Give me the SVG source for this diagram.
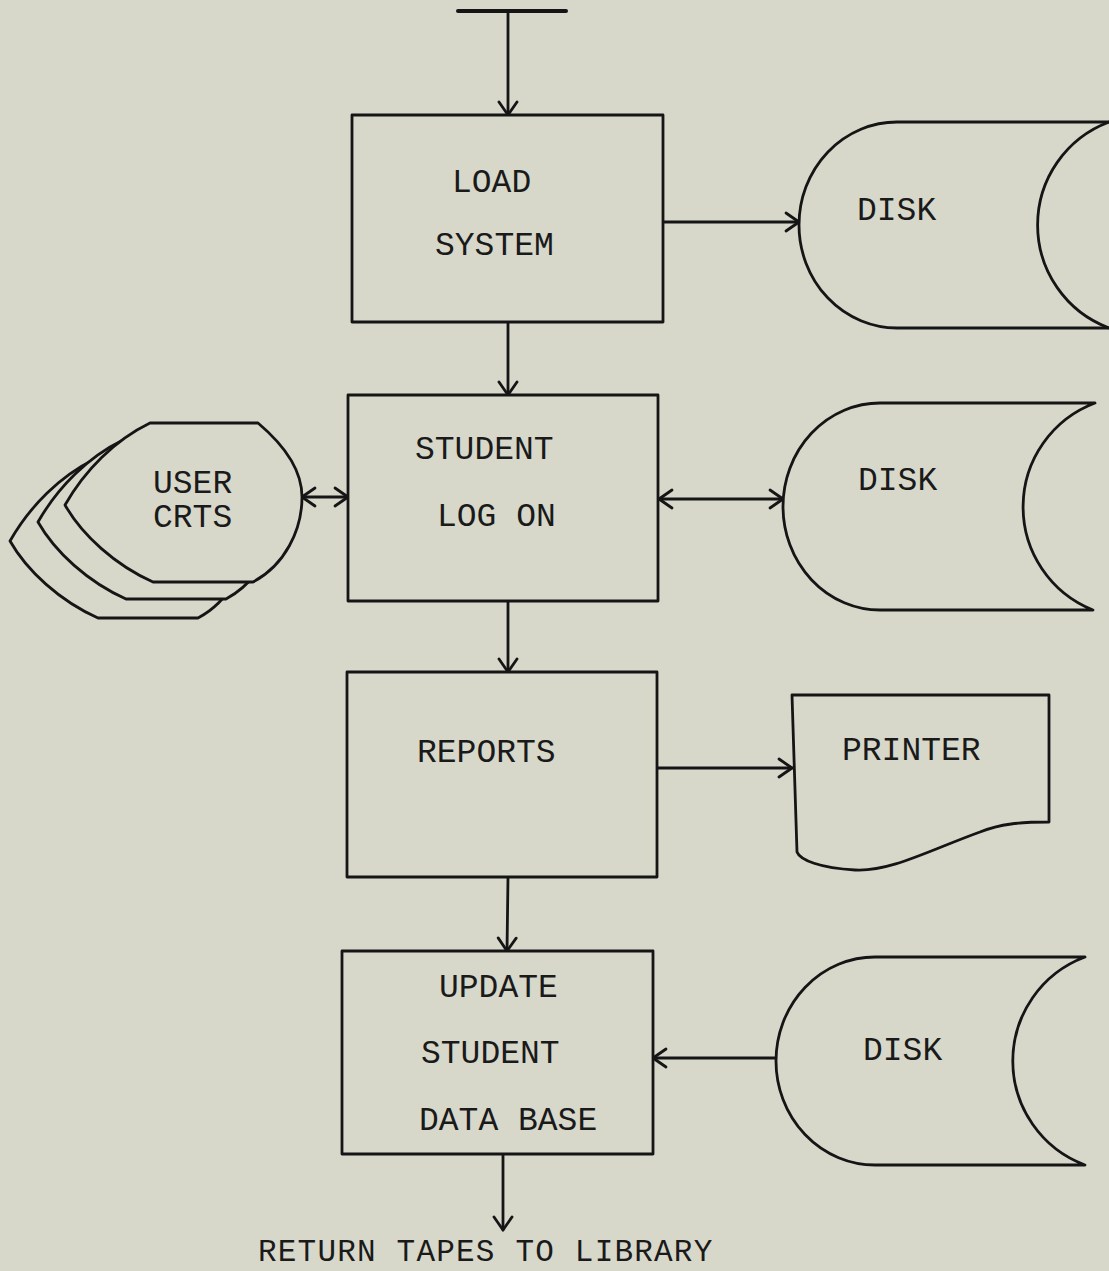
<svg xmlns="http://www.w3.org/2000/svg" width="1109" height="1271" viewBox="0 0 1109 1271">
<style>
.bg{fill:#d7d8ca}
.shape{fill:#d7d8ca;stroke:#151515;stroke-width:2.8;stroke-linejoin:round}
.line{fill:none;stroke:#151515;stroke-width:2.8;stroke-linecap:round}
.txt{font-family:"Liberation Mono","Courier New",monospace;font-size:33px;fill:#1a1a1a}
.small{font-size:31px;letter-spacing:1.2px}
</style>
<defs>
<marker id="arr" markerUnits="userSpaceOnUse" viewBox="-15 -11 17 22" refX="0" refY="0" markerWidth="17" markerHeight="22" orient="auto-start-reverse">
<path d="M -13 -9 L 0 0 L -13 9" fill="none" stroke="#151515" stroke-width="2.8" stroke-linecap="round" stroke-linejoin="round"/>
</marker>
<path id="crt" d="M 150 423 L 258 423 C 290 450 302 475 302 497 C 302 530 285 565 253 582 L 153 582 C 115 565 82 535 65 505 C 85 470 115 440 150 423 Z"/>
</defs>
<rect class="bg" x="0" y="0" width="1109" height="1271"/>

<g id="connectors">
<line class="line" x1="458" y1="11" x2="566" y2="11" style="stroke-width:4"/>
<line class="line" x1="508" y1="11" x2="508" y2="115" marker-end="url(#arr)"/>
<line class="line" x1="508" y1="322" x2="508" y2="395" marker-end="url(#arr)"/>
<line class="line" x1="663" y1="222" x2="799" y2="222" marker-end="url(#arr)"/>
<line class="line" x1="302" y1="497" x2="348" y2="497" marker-start="url(#arr)" marker-end="url(#arr)"/>
<line class="line" x1="659" y1="499" x2="783" y2="499" marker-start="url(#arr)" marker-end="url(#arr)"/>
<line class="line" x1="508" y1="601" x2="508" y2="672" marker-end="url(#arr)"/>
<line class="line" x1="657" y1="768" x2="792" y2="768" marker-end="url(#arr)"/>
<line class="line" x1="508" y1="877" x2="507" y2="951" marker-end="url(#arr)"/>
<line class="line" x1="776" y1="1058" x2="653" y2="1058" marker-end="url(#arr)"/>
<line class="line" x1="503" y1="1154" x2="503" y2="1230" marker-end="url(#arr)"/>
</g>

<g id="load-system">
<rect class="shape" x="352" y="115" width="311" height="207"/>
<text class="txt" x="452" y="192">LOAD</text>
<text class="txt" x="435" y="255">SYSTEM</text>
</g>

<g id="disk-1">
<path class="shape" d="M 1112 122 L 897 122 A 98 103 0 0 0 897 328 L 1112 328"/>
<path class="line" d="M 1109 122 A 110 110 0 0 0 1109 328"/>
<text class="txt" x="857" y="220">DISK</text>
</g>

<g id="user-crts">
<use href="#crt" class="shape" transform="translate(-55,36)"/>
<use href="#crt" class="shape" transform="translate(-27,17)"/>
<use href="#crt" class="shape"/>
<text class="txt" x="153" y="493">USER</text>
<text class="txt" x="153" y="527">CRTS</text>
</g>

<g id="student-log-on">
<rect class="shape" x="348" y="395" width="310" height="206"/>
<text class="txt" x="415" y="459">STUDENT</text>
<text class="txt" x="437" y="526">LOG ON</text>
</g>

<g id="disk-2">
<path class="shape" d="M 1095 403 L 880 403 A 97 103.5 0 0 0 880 610 L 1093 610 A 111 111 0 0 1 1095 403 Z"/>
<text class="txt" x="858" y="490">DISK</text>
</g>

<g id="reports">
<rect class="shape" x="347" y="672" width="310" height="205"/>
<text class="txt" x="417" y="762">REPORTS</text>
</g>

<g id="printer">
<path class="shape" d="M 792 695 L 1049 695 L 1049 822 C 1020 822 1000 824 980 832 C 930 850 890 872 855 870 C 820 868 800 860 797 852 Z"/>
<text class="txt" x="842" y="760">PRINTER</text>
</g>

<g id="update-student-data-base">
<rect class="shape" x="342" y="951" width="311" height="203"/>
<text class="txt" x="439" y="997">UPDATE</text>
<text class="txt" x="421" y="1063">STUDENT</text>
<text class="txt" x="419" y="1130">DATA BASE</text>
</g>

<g id="disk-3">
<path class="shape" d="M 1085 957 L 875 957 A 99 104 0 0 0 875 1165 L 1085 1165 A 111 111 0 0 1 1085 957 Z"/>
<text class="txt" x="863" y="1060">DISK</text>
</g>

<g id="return-tapes">
<text class="txt small" x="258" y="1261">RETURN TAPES TO LIBRARY</text>
</g>
</svg>
